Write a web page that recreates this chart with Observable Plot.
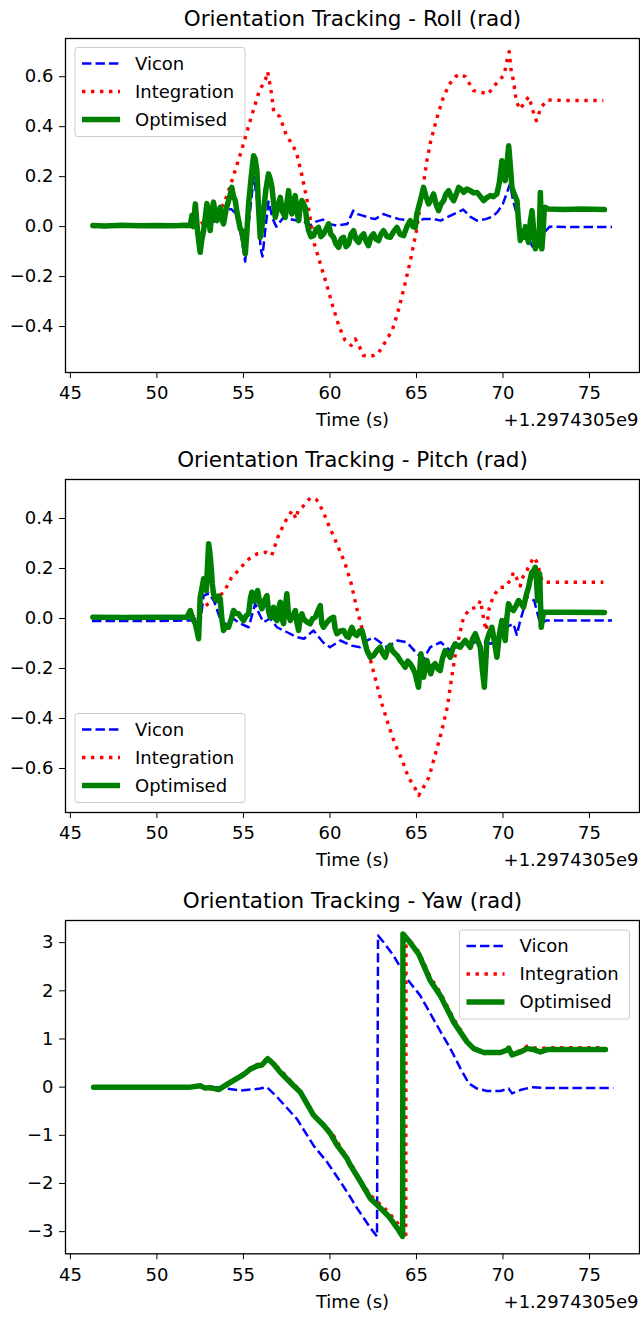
<!DOCTYPE html>
<html><head><meta charset="utf-8">
<script src="https://cdn.jsdelivr.net/npm/d3@7"></script>
<script src="https://cdn.jsdelivr.net/npm/@observablehq/plot@0.6"></script>
<style>
body{margin:0;background:#fff;font-family:"DejaVu Sans",sans-serif;}
#charts svg{display:block;}
</style></head><body><div id="charts"></div><script>
// ---- labels / ticks ----
const seriesNames = ["Vicon", "Integration", "Optimised"];
const titles = ["Orientation Tracking - Roll (rad)", "Orientation Tracking - Pitch (rad)", "Orientation Tracking - Yaw (rad)"];
const xLabel = "Time (s)";
const xOffsetLabel = "+1.2974305e9";
const xTicks = [45, 50, 55, 60, 65, 70, 75];
const rollTicks = [-0.4, -0.2, 0, 0.2, 0.4, 0.6];
const pitchTicks = [-0.6, -0.4, -0.2, 0, 0.2, 0.4];
const yawTicks = [-3, -2, -1, 0, 1, 2, 3];

// ---- Roll (t offset from 1.2974305e9, value rad) ----
const rollVicon = [[46.25,0],[48,0.002],[50,0],[51.9,0],[52.2,0.03],[52.5,-0.06],[52.9,0.05],[53.3,0.02],[53.8,0.064],[54.3,0.07],[54.6,0.05],[54.9,-0.05],[55.1,-0.14],[55.25,-0.02],[55.6,0.2],[55.8,0.1],[56.0,-0.09],[56.1,-0.12],[56.25,-0.02],[56.45,0.1],[56.7,0.03],[56.9,0.0],[57.3,0.035],[57.7,0.03],[58.1,0.024],[58.5,0.02],[58.85,0.004],[59.2,0.02],[59.6,0.028],[60.0,0.01],[60.4,0.004],[61.0,0.01],[61.35,0.064],[61.6,0.05],[61.9,0.044],[62.3,0.035],[62.6,0.03],[63.1,0.05],[63.5,0.04],[64.0,0.03],[64.6,0.024],[65.0,0.02],[65.4,0.03],[66.0,0.03],[66.4,0.024],[67.0,0.045],[67.7,0.068],[68.1,0.04],[68.5,0.024],[69.0,0.03],[69.4,0.04],[69.7,0.06],[70.0,0.092],[70.2,0.13],[70.4,0.17],[70.6,0.1],[70.8,0.05],[71.0,0.01],[71.3,-0.016],[71.5,-0.05],[71.7,-0.08],[71.9,-0.04],[72.1,-0.07],[72.3,-0.03],[72.7,0.0],[74,-0.002],[76.3,-0.002]];
const rollInteg = [[46.3,0],[48,0.002],[50,0.003],[52,0.005],[52.5,0.01],[53.0,0.03],[53.4,0.05],[53.87,0.09],[54.27,0.17],[54.87,0.30],[55.33,0.41],[55.9,0.54],[56.28,0.59],[56.4,0.62],[56.63,0.53],[56.75,0.46],[57.1,0.44],[57.46,0.37],[57.8,0.33],[58.05,0.30],[58.4,0.20],[58.75,0.08],[59.1,-0.07],[59.45,-0.15],[59.8,-0.23],[60.17,-0.32],[60.53,-0.40],[60.88,-0.456],[61.23,-0.476],[61.47,-0.45],[61.7,-0.48],[61.94,-0.516],[62.3,-0.52],[62.77,-0.51],[63.12,-0.47],[63.6,-0.416],[63.95,-0.336],[64.3,-0.24],[64.65,-0.136],[65.0,-0.016],[65.35,0.144],[65.6,0.264],[65.83,0.344],[66.19,0.437],[66.55,0.517],[66.9,0.57],[67.25,0.60],[67.5,0.61],[67.83,0.60],[68.3,0.544],[68.78,0.537],[69.14,0.53],[69.5,0.564],[69.85,0.59],[70.08,0.61],[70.2,0.656],[70.36,0.70],[70.48,0.62],[70.62,0.58],[70.77,0.50],[71.0,0.47],[71.26,0.50],[71.5,0.52],[71.73,0.464],[71.93,0.424],[72.2,0.477],[72.56,0.507],[73.5,0.505],[75.8,0.505]];
const rollOpt = [[46.3,0.004],[47,0.002],[48,0.005],[49,0.003],[50,0.004],[51,0.003],[51.6,0.005],[51.93,0.004],[52.02,0.044],[52.1,0.0],[52.22,0.091],[52.35,-0.02],[52.5,-0.103],[52.6,-0.05],[52.7,-0.016],[52.8,0.04],[52.89,0.092],[53.0,0.03],[53.08,-0.016],[53.18,0.06],[53.27,0.098],[53.37,0.05],[53.47,0.024],[53.56,0.06],[53.66,0.077],[53.75,0.03],[53.85,0.011],[54.0,0.07],[54.14,0.104],[54.25,0.13],[54.33,0.157],[54.43,0.12],[54.53,0.104],[54.62,0.06],[54.72,0.024],[54.82,-0.01],[54.91,-0.016],[55.01,-0.06],[55.11,-0.109],[55.2,-0.02],[55.3,0.091],[55.45,0.2],[55.59,0.284],[55.68,0.27],[55.78,0.224],[55.87,0.08],[55.97,-0.043],[56.07,0.0],[56.17,0.064],[56.3,0.15],[56.45,0.211],[56.55,0.19],[56.65,0.157],[56.75,0.09],[56.84,0.037],[56.95,0.07],[57.13,0.117],[57.25,0.06],[57.42,0.037],[57.52,0.1],[57.61,0.144],[57.7,0.08],[57.8,0.051],[57.9,0.1],[57.99,0.124],[58.1,0.06],[58.19,0.024],[58.28,0.08],[58.38,0.104],[58.47,0.09],[58.57,0.077],[58.67,0.02],[58.77,-0.016],[58.9,-0.04],[59.06,-0.036],[59.2,-0.01],[59.34,-0.003],[59.48,-0.04],[59.63,-0.029],[59.78,-0.01],[59.92,0.011],[60.05,-0.03],[60.21,-0.043],[60.35,-0.07],[60.5,-0.083],[60.65,-0.05],[60.79,-0.043],[60.93,-0.08],[61.08,-0.069],[61.22,-0.03],[61.37,-0.016],[61.5,-0.05],[61.66,-0.063],[61.8,-0.04],[61.95,-0.029],[62.1,-0.06],[62.23,-0.076],[62.38,-0.04],[62.52,-0.029],[62.66,-0.05],[62.81,-0.056],[62.95,-0.03],[63.1,-0.016],[63.3,-0.04],[63.49,-0.043],[63.68,-0.02],[63.87,-0.003],[64.05,-0.03],[64.26,-0.036],[64.45,0.0],[64.64,0.024],[64.8,0.0],[64.93,-0.003],[65.02,0.05],[65.12,0.077],[65.28,0.12],[65.41,0.157],[65.55,0.12],[65.7,0.091],[65.85,0.11],[65.99,0.131],[66.13,0.09],[66.28,0.064],[66.42,0.09],[66.57,0.104],[66.7,0.13],[66.86,0.144],[67.0,0.12],[67.15,0.104],[67.3,0.13],[67.44,0.157],[67.58,0.15],[67.73,0.137],[67.9,0.15],[68.11,0.144],[68.3,0.135],[68.5,0.137],[68.7,0.12],[68.88,0.104],[69.05,0.115],[69.27,0.124],[69.45,0.12],[69.65,0.131],[69.8,0.18],[69.94,0.264],[70.03,0.22],[70.13,0.184],[70.23,0.25],[70.33,0.324],[70.42,0.25],[70.52,0.157],[70.65,0.13],[70.81,0.104],[70.9,0.02],[71.0,-0.056],[71.1,-0.02],[71.19,-0.043],[71.3,0.0],[71.38,-0.04],[71.48,-0.063],[71.58,0.02],[71.68,0.064],[71.78,-0.02],[71.87,-0.089],[71.96,-0.06],[72.06,-0.076],[72.11,0.0],[72.16,0.137],[72.2,0.05],[72.25,-0.089],[72.32,-0.02],[72.38,0.06],[72.45,0.077],[72.6,0.07],[73.5,0.068],[74.5,0.07],[75.86,0.068]];

// ---- Pitch ----
const pitchVicon = [[46.25,-0.01],[50,-0.01],[51.9,-0.008],[52.2,0.0],[52.45,-0.05],[52.7,0.092],[53.0,0.1],[53.3,0.07],[53.8,-0.03],[54.4,0.0],[54.8,-0.02],[55.3,-0.035],[55.68,0.059],[55.9,0.02],[56.16,-0.015],[56.55,0.0],[56.94,-0.035],[57.5,-0.054],[58.1,-0.075],[58.5,-0.081],[59.05,-0.048],[59.6,-0.095],[60.0,-0.115],[60.6,-0.088],[61.2,-0.108],[61.75,-0.115],[62.1,-0.09],[62.5,-0.075],[63.3,-0.115],[63.9,-0.088],[64.45,-0.095],[65.03,-0.141],[65.4,-0.161],[65.8,-0.115],[66.4,-0.095],[66.95,-0.128],[67.53,-0.101],[68.1,-0.101],[68.7,-0.088],[69.3,-0.101],[69.84,-0.075],[70.2,-0.035],[70.6,-0.021],[70.8,-0.065],[71.0,-0.008],[71.4,0.085],[71.8,0.072],[72.15,-0.021],[72.5,-0.008],[76.3,-0.008]];
const pitchInteg = [[46.3,0.003],[50,0.004],[52,0.005],[52.6,0.04],[53.0,0.06],[53.4,0.08],[53.87,0.105],[54.27,0.159],[54.86,0.205],[55.33,0.239],[55.8,0.259],[56.28,0.265],[56.63,0.252],[56.99,0.325],[57.34,0.379],[57.81,0.432],[58.05,0.399],[58.15,0.43],[58.4,0.445],[58.87,0.483],[59.23,0.475],[59.58,0.432],[59.94,0.372],[60.4,0.299],[60.88,0.219],[61.23,0.139],[61.58,0.032],[61.93,-0.061],[62.3,-0.155],[62.65,-0.248],[63.0,-0.341],[63.36,-0.421],[63.72,-0.495],[64.18,-0.568],[64.53,-0.635],[64.89,-0.675],[65.13,-0.708],[65.36,-0.681],[65.72,-0.635],[66.07,-0.548],[66.42,-0.461],[66.78,-0.355],[67.01,-0.248],[67.25,-0.141],[67.48,-0.068],[67.72,0.005],[68.1,0.039],[68.5,0.045],[68.7,0.072],[68.9,-0.008],[69.03,-0.048],[69.2,0.04],[69.46,0.092],[69.84,0.125],[70.1,0.125],[70.42,0.152],[70.61,0.185],[70.8,0.16],[71.0,0.13],[71.1,0.16],[71.38,0.192],[71.58,0.219],[71.77,0.245],[71.96,0.225],[72.25,0.152],[72.5,0.145],[75.8,0.145]];
const pitchOpt = [[46.3,0.005],[48,0.004],[50,0.005],[51.73,0.005],[51.93,0.032],[52.05,0.0],[52.22,-0.021],[52.41,-0.081],[52.5,0.085],[52.6,0.12],[52.7,0.159],[52.85,0.112],[52.99,0.299],[53.05,0.27],[53.12,0.219],[53.2,0.14],[53.27,0.099],[53.37,0.08],[53.47,0.072],[53.56,0.09],[53.66,0.079],[53.75,0.0],[53.85,-0.048],[54.0,-0.03],[54.14,-0.035],[54.3,0.0],[54.43,0.032],[54.58,0.02],[54.72,0.019],[54.86,0.005],[55.01,-0.008],[55.15,0.01],[55.3,0.019],[55.4,0.08],[55.49,0.105],[55.58,0.07],[55.68,0.072],[55.75,0.1],[55.82,0.112],[55.95,0.06],[56.07,0.039],[56.2,0.07],[56.36,0.092],[56.45,0.03],[56.55,0.005],[56.65,0.03],[56.74,0.045],[56.84,0.0],[56.94,-0.008],[57.03,0.04],[57.13,0.065],[57.22,0.0],[57.32,-0.021],[57.42,0.05],[57.51,0.099],[57.6,0.02],[57.71,-0.008],[57.85,0.01],[58.0,0.032],[58.1,-0.02],[58.19,-0.048],[58.28,0.0],[58.38,0.019],[58.47,0.0],[58.57,-0.008],[58.7,-0.015],[58.86,-0.021],[59.0,0.0],[59.15,0.005],[59.3,0.03],[59.44,0.052],[59.53,-0.02],[59.63,-0.035],[59.78,-0.02],[59.92,-0.008],[60.05,0.0],[60.21,0.005],[60.3,-0.04],[60.4,-0.061],[60.6,-0.05],[60.79,-0.048],[60.95,-0.07],[61.08,-0.075],[61.18,-0.05],[61.27,-0.035],[61.4,-0.06],[61.56,-0.068],[61.7,-0.05],[61.85,-0.048],[62.0,-0.09],[62.14,-0.128],[62.33,-0.155],[62.52,-0.148],[62.7,-0.13],[62.91,-0.115],[63.05,-0.14],[63.2,-0.155],[63.35,-0.12],[63.48,-0.108],[63.62,-0.13],[63.77,-0.141],[63.9,-0.15],[64.06,-0.168],[64.2,-0.18],[64.35,-0.195],[64.5,-0.17],[64.64,-0.181],[64.8,-0.2],[64.93,-0.221],[65.03,-0.25],[65.12,-0.275],[65.2,-0.2],[65.26,-0.141],[65.33,-0.19],[65.41,-0.235],[65.5,-0.2],[65.6,-0.168],[65.72,-0.2],[65.83,-0.221],[65.95,-0.19],[66.08,-0.181],[66.22,-0.2],[66.37,-0.208],[66.5,-0.16],[66.66,-0.128],[66.8,-0.14],[66.95,-0.155],[67.1,-0.12],[67.24,-0.101],[67.38,-0.11],[67.53,-0.115],[67.68,-0.1],[67.82,-0.088],[67.95,-0.1],[68.11,-0.115],[68.25,-0.08],[68.4,-0.061],[68.55,-0.09],[68.69,-0.115],[68.8,-0.2],[68.92,-0.275],[69.0,-0.18],[69.07,-0.088],[69.2,-0.06],[69.36,-0.035],[69.5,-0.09],[69.65,-0.155],[69.8,-0.06],[69.94,-0.008],[70.03,-0.05],[70.13,-0.088],[70.22,0.0],[70.32,0.059],[70.45,0.04],[70.61,0.032],[70.75,0.05],[70.9,0.072],[71.05,0.06],[71.19,0.045],[71.33,0.09],[71.48,0.125],[71.58,0.16],[71.67,0.185],[71.77,0.19],[71.87,0.205],[71.94,0.15],[72.0,0.072],[72.06,0.13],[72.12,0.179],[72.17,0.06],[72.21,-0.035],[72.28,0.0],[72.35,0.025],[73.5,0.025],[75.86,0.024]];

// ---- Yaw ----
const yawVicon = [[46.3,0],[50,0],[53.47,0],[54.81,-0.07],[55.97,-0.03],[56.36,0],[56.93,-0.2],[58.09,-0.66],[59.05,-1.21],[59.82,-1.55],[60.6,-1.96],[61.17,-2.28],[61.56,-2.51],[62.33,-2.92],[62.72,-3.10],[62.78,3.15],[63.1,3.01],[63.68,2.73],[64.45,2.25],[65.22,1.90],[66.19,1.28],[66.96,0.80],[67.54,0.39],[68.02,0.08],[68.5,-0.03],[69.08,-0.08],[69.85,-0.08],[70.33,-0.03],[70.52,-0.13],[71.0,-0.06],[71.68,0],[72.55,-0.02],[76.38,-0.02]];
const yawInteg = [[46.3,0],[51.9,0],[52.5,0.03],[52.8,-0.02],[53.5,-0.05],[54.24,0.12],[55.0,0.28],[55.4,0.4],[55.8,0.47],[56.1,0.5],[56.4,0.62],[56.75,0.5],[57.15,0.35],[57.7,0.14],[58.2,-0.04],[58.7,-0.4],[59.25,-0.64],[59.85,-0.85],[60.2,-1.0],[60.6,-1.24],[61.2,-1.58],[61.75,-1.93],[62.35,-2.25],[62.9,-2.43],[63.4,-2.6],[63.9,-2.82],[64.38,-3.1],[64.4,3.12],[64.6,3.05],[65.15,2.8],[65.8,2.28],[66.4,1.95],[67.15,1.42],[67.9,0.98],[68.3,0.8],[68.9,0.7],[69.85,0.72],[70.3,0.78],[70.55,0.7],[71.0,0.76],[71.4,0.85],[71.8,0.82],[72.2,0.8],[72.6,0.82],[75.8,0.82]];
const yawOpt = [[46.34,0],[51.93,0],[52.5,0.03],[52.79,-0.02],[53.1,-0.01],[53.56,-0.05],[54.24,0.1],[55.0,0.26],[55.39,0.37],[55.78,0.44],[56.07,0.46],[56.4,0.59],[56.74,0.48],[57.13,0.31],[57.9,0.03],[58.28,-0.1],[59.05,-0.58],[59.63,-0.79],[60.02,-0.96],[60.4,-1.2],[60.98,-1.48],[61.18,-1.62],[61.76,-1.96],[62.33,-2.31],[62.91,-2.51],[63.39,-2.68],[63.88,-2.92],[64.2,-3.10],[64.22,3.18],[64.55,3.04],[65.13,2.76],[65.8,2.21],[66.38,1.90],[67.15,1.35],[67.92,0.94],[68.31,0.80],[68.89,0.72],[69.85,0.72],[70.23,0.77],[70.33,0.81],[70.52,0.67],[71.0,0.73],[71.39,0.80],[71.78,0.78],[72.16,0.73],[72.55,0.78],[75.92,0.78]];

// ---- drawing ----
const xDomain = [44.717, 77.89];
const FONT = "DejaVu Sans";
const FS = 18, TFS = 21.5;
const fmt1 = d3.format(".1f");
const fmt0 = d3.format("d");
const lineStyles = [
  {stroke: "#0000ff", strokeWidth: 2.5, strokeDasharray: "9.4,4.1", strokeLinecap: "butt"},
  {stroke: "#ff0000", strokeWidth: 3.4, strokeDasharray: "3.4,5.6", strokeLinecap: "butt"},
  {stroke: "#008000", strokeWidth: 5.5, strokeLinecap: "round"}
];

function panel(o) {
  const series = [o.vicon, o.integ, o.opt];
  const chart = Plot.plot({
    width: 640, height: o.height,
    marginLeft: 65, marginRight: 1, marginTop: o.marginTop, marginBottom: o.marginBottom,
    style: {fontFamily: FONT, fontSize: FS + "px", color: "black", background: "white"},
    x: {domain: xDomain},
    y: {domain: o.yDomain},
    marks: [
      Plot.axisX({ticks: xTicks, tickFormat: fmt0, tickSize: 6, tickPadding: 8, label: null, fontSize: FS}),
      Plot.axisY({ticks: o.yTicks, tickFormat: o.yFmt, tickSize: 6, tickPadding: 6, label: null, fontSize: FS}),
      ...series.map((s, i) => Plot.line(s, {x: d => d[0], y: d => d[1], ...lineStyles[i], strokeLinejoin: "round"})),
      Plot.frame({stroke: "black", strokeWidth: 1.3}),
      Plot.text([o.title], {frameAnchor: "top", dy: -19, lineAnchor: "middle", fontSize: TFS, fill: "black"}),
      Plot.text([xLabel], {frameAnchor: "bottom", dy: 48, lineAnchor: "middle", fontSize: FS, fill: "black"}),
      Plot.text([xOffsetLabel], {frameAnchor: "bottom-right", dx: -1, dy: 48, lineAnchor: "middle", textAnchor: "end", fontSize: FS, fill: "black"})
    ]
  });
  // legend
  const svg = d3.select(chart);
  const g = svg.append("g").attr("transform", `translate(${o.legend[0]},${o.legend[1]})`);
  g.append("rect").attr("width", 170).attr("height", 89).attr("rx", 3)
    .attr("fill", "white").attr("fill-opacity", 0.8).attr("stroke", "#cccccc").attr("stroke-width", 1);
  seriesNames.forEach((name, i) => {
    const y = 16 + i * 28;
    const st = lineStyles[i];
    const ln = g.append("line").attr("x1", 7).attr("x2", 45).attr("y1", y).attr("y2", y)
      .attr("stroke", st.stroke).attr("stroke-width", st.strokeWidth).attr("stroke-linecap", "butt");
    if (st.strokeDasharray) ln.attr("stroke-dasharray", st.strokeDasharray);
    g.append("text").attr("x", 60).attr("y", y).attr("dy", "0.35em").attr("text-anchor", "start")
      .attr("font-family", FONT).attr("font-size", FS).attr("fill", "black").text(name);
  });
  document.getElementById("charts").appendChild(chart);
}

panel({title: titles[0], height: 440, marginTop: 38, marginBottom: 68, yDomain: [-0.584, 0.753], yTicks: rollTicks, yFmt: fmt1,
  vicon: rollVicon, integ: rollInteg, opt: rollOpt, legend: [75, 47.5]});
panel({title: titles[1], height: 440, marginTop: 39, marginBottom: 68, yDomain: [-0.776, 0.556], yTicks: pitchTicks, yFmt: fmt1,
  vicon: pitchVicon, integ: pitchInteg, opt: pitchOpt, legend: [75, 273.5]});
panel({title: titles[2], height: 437, marginTop: 40, marginBottom: 63.7, yDomain: [-3.46, 3.46], yTicks: yawTicks, yFmt: fmt0,
  vicon: yawVicon, integ: yawInteg, opt: yawOpt, legend: [459.5, 50]});
</script></body></html>
